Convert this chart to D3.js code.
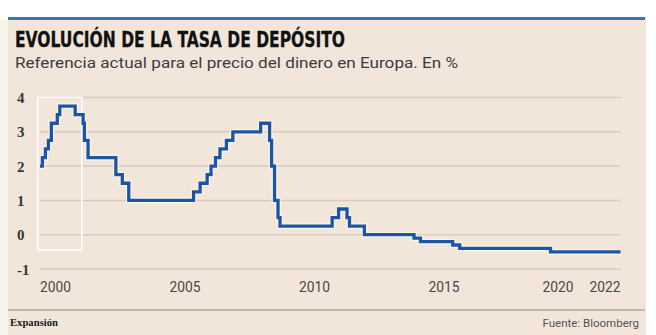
<!DOCTYPE html>
<html><head><meta charset="utf-8">
<script src="https://cdn.jsdelivr.net/npm/d3@7"></script>
<style>html,body{margin:0;padding:0;background:#fff;}svg{display:block;}</style>
</head><body>
<script>
const title = "EVOLUCIÓN DE LA TASA DE DEPÓSITO";
const subtitle = "Referencia actual para el precio del dinero en Europa. En %";
const source = "Fuente: Bloomberg";
const brand = "Expansión";

const dates = ["2000-01-01","2000-02-04","2000-03-17","2000-04-28","2000-06-09","2000-09-01","2000-10-06","2001-05-11","2001-08-31","2001-09-18","2001-11-09","2002-12-06","2003-03-07","2003-06-06","2005-12-06","2006-03-08","2006-06-15","2006-08-09","2006-10-11","2006-12-13","2007-03-14","2007-06-13","2008-07-09","2008-11-12","2008-12-10","2009-01-21","2009-03-11","2009-04-08","2011-04-13","2011-07-13","2011-11-09","2011-12-14","2012-07-11","2014-06-11","2014-09-10","2015-12-09","2016-03-16","2019-09-18","2022-06-01"];
const rates = [2.00,2.25,2.50,2.75,3.25,3.50,3.75,3.50,3.25,2.75,2.25,1.75,1.50,1.00,1.25,1.50,1.75,2.00,2.25,2.50,2.75,3.00,3.25,2.75,2.00,1.00,0.50,0.25,0.50,0.75,0.50,0.25,0.00,-0.10,-0.20,-0.30,-0.40,-0.50,-0.50];

const yTicks = [-1,0,1,2,3,4];
const yTickLabels = ["-1","0","1","2","3","4"];
const xTickYears = ["2000","2005","2010","2015","2020","2022"];
const highlightDates = ["1999-11-28","2001-08-12"];
const highlightValues = [-0.44, 4];

const W = 656, H = 335;
const parse = d3.timeParse("%Y-%m-%d");
const data = dates.map((d,i)=>({date:parse(d), v:rates[i]}));

const svg = d3.select("body").append("svg").attr("width",W).attr("height",H);

// backgrounds
svg.append("rect").attr("x",0).attr("y",0).attr("width",W).attr("height",H).attr("fill","#ffffff");
svg.append("rect").attr("x",0).attr("y",20).attr("width",8).attr("height",H-20).attr("fill","#f8f2ec");
svg.append("rect").attr("x",8).attr("y",17).attr("width",638).attr("height",H-17).attr("fill","#f2e6db");
svg.append("rect").attr("x",8).attr("y",17).attr("width",637).attr("height",3).attr("fill","#3f73b8");
svg.append("rect").attr("x",8).attr("y",309).attr("width",637).attr("height",2).attr("fill","#c2b8ae");

// title + subtitle
svg.append("text").attr("x",15).attr("y",47).text(title)
  .attr("font-family","'Liberation Sans Narrow','DejaVu Sans Condensed',Roboto,sans-serif")
  .attr("font-weight","bold").attr("font-size",21.5).attr("fill","#111")
  .attr("stroke","#111").attr("stroke-width",0.3)
  .attr("textLength",330).attr("lengthAdjust","spacingAndGlyphs");
svg.append("text").attr("x",15).attr("y",68).text(subtitle)
  .attr("font-family","Roboto,'Liberation Sans',sans-serif")
  .attr("font-size",14.5).attr("fill","#3c3c3c")
  .attr("textLength",443).attr("lengthAdjust","spacingAndGlyphs");

// scales
const x = d3.scaleTime().domain([parse(dates[0]), parse(dates[dates.length-1])]).range([40, 620.5]);
const y = d3.scaleLinear().domain([-1,4]).range([269,97.5]);

// gridlines
svg.append("g").selectAll("line").data(yTicks).join("line")
  .attr("x1",x.range()[0]).attr("x2",x.range()[1])
  .attr("y1",d=>y(d)).attr("y2",d=>y(d))
  .attr("stroke","#d9cbbd").attr("stroke-width",1.5);

// y labels
svg.append("g").selectAll("text").data(yTicks).join("text")
  .attr("x",17).attr("y",d=>y(d)+5.5)
  .text((d,i)=>yTickLabels[i])
  .attr("font-family","'Liberation Serif','DejaVu Serif',serif")
  .attr("font-weight","bold").attr("font-size",15).attr("fill","#3a3632");

// x labels
const n = xTickYears.length;
svg.append("g").selectAll("text").data(xTickYears).join("text")
  .attr("x",(d,i)=> i===n-1 ? x.range()[1] : x(parse(d+"-01-01")))
  .attr("y",291.5)
  .attr("text-anchor",(d,i)=> i===n-1 ? "end" : (i===n-2 ? "middle" : "start"))
  .text(d=>d)
  .attr("font-family","Roboto,'Liberation Sans',sans-serif")
  .attr("font-size",14.5).attr("fill","#4a4642")
  .attr("textLength",31).attr("lengthAdjust","spacingAndGlyphs");

// highlight box
svg.append("rect")
  .attr("x",x(parse(highlightDates[0])))
  .attr("y",y(highlightValues[1]))
  .attr("width",x(parse(highlightDates[1]))-x(parse(highlightDates[0])))
  .attr("height",y(highlightValues[0])-y(highlightValues[1]))
  .attr("fill","none").attr("stroke","#ffffff").attr("stroke-width",1.6);

// line
const line = d3.line().x(d=>x(d.date)).y(d=>y(d.v)).curve(d3.curveStepAfter);
svg.append("path").datum(data).attr("d",line)
  .attr("fill","none").attr("stroke","#fbf4ea").attr("stroke-width",5.8).attr("stroke-linejoin","miter");
svg.append("path").datum(data).attr("d",line)
  .attr("fill","none").attr("stroke","#1d55a6").attr("stroke-width",3.3).attr("stroke-linejoin","miter");

// footer
svg.append("text").attr("x",10).attr("y",326).text(brand)
  .attr("font-family","'Liberation Serif','DejaVu Serif',serif")
  .attr("font-weight","bold").attr("font-size",10).attr("fill","#1a1a1a")
  .attr("textLength",48).attr("lengthAdjust","spacingAndGlyphs");
svg.append("text").attr("x",639).attr("y",327).attr("text-anchor","end").text(source)
  .attr("font-family","'Liberation Sans Narrow',Roboto,sans-serif")
  .attr("font-size",11.5).attr("fill","#555");
</script>
</body></html>
